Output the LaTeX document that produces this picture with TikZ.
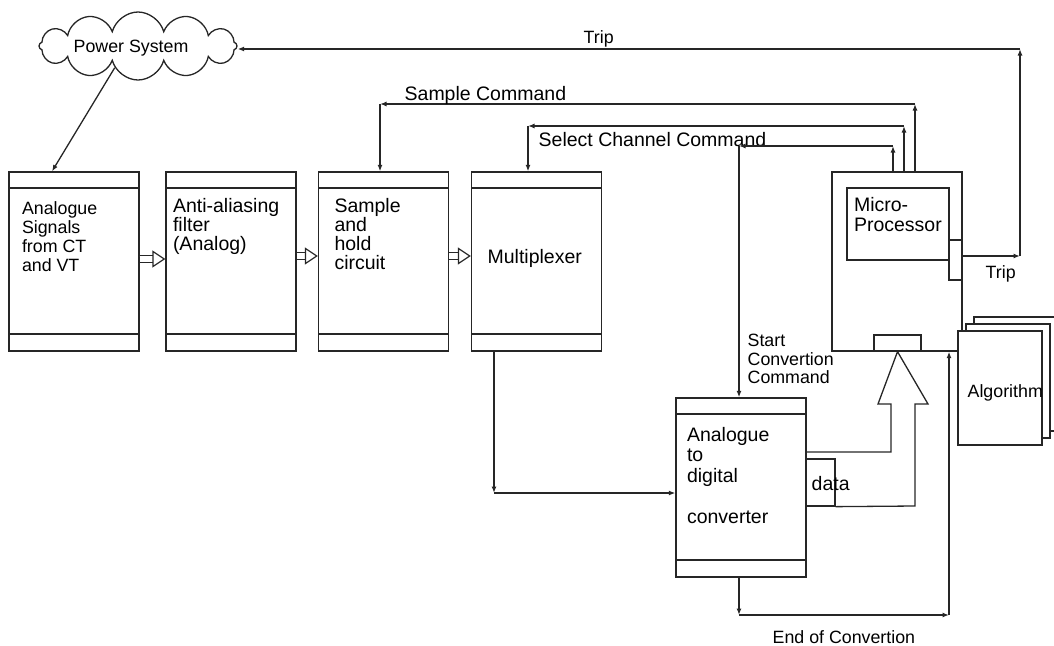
\documentclass[tikz,border=0pt]{standalone}
\usepackage{fontspec}
\setmainfont{Liberation Sans}
\usetikzlibrary{arrows.meta,shapes.symbols}

\tikzset{
  unit/.style={draw, minimum width=130pt, minimum height=179pt, inner sep=0pt,
    path picture={
      \draw ([yshift=-16pt]path picture bounding box.north west) -- ([yshift=-16pt]path picture bounding box.north east);
      \draw ([yshift=17pt]path picture bounding box.south west) -- ([yshift=17pt]path picture bounding box.south east);
    }},
  plain/.style={draw, inner sep=0pt},
  page/.style={draw, fill=white, minimum width=84pt, minimum height=114pt, inner sep=0pt},
  txtL/.style={font=\fontsize{19.5}{19}\selectfont, inner sep=0pt, align=left},
  txtS/.style={font=\fontsize{17.8}{19}\selectfont, inner sep=0pt, align=left},
  arr/.style={-{Latex[length=6.5pt,width=5pt]}},
  hollow/.style={double, double distance=5.5pt, -{Triangle[open, length=13pt, width=17pt, line width=1.2pt]}}
}

\begin{document}
\begin{tikzpicture}[x=1pt,y=-1pt,line width=1.3pt,draw=black!85]
    \useasboundingbox (0,0) rectangle (1054,645);

    % power system cloud
    \node[cloud, draw, cloud puffs=12, aspect=2.9, minimum width=198pt, minimum height=68pt, inner sep=0pt] (ps) at (138,46) {};
    \node[txtS, anchor=base west] (pst) at (73,52.7) {Power System};

    % signal chain
    \node[unit] (b1) at (74,261.5) {};
    \node[unit] (b2) at (231,261.5) {};
    \node[unit] (b3) at (383.5,261.5) {};
    \node[unit] (mux) at (536.5,261.5) {};
    \node[unit] (adc) at (741,487.5) {};

    \node[txtS, anchor=north west] (b1t) at ([xshift=13pt,yshift=-30pt]b1.north west) {Analogue\\Signals\\from CT\\and VT};
    \node[txtL, anchor=north west] (b2t) at ([xshift=7pt,yshift=-26pt]b2.north west) {Anti-aliasing\\filter\\(Analog)};
    \node[txtL, anchor=north west] (b3t) at ([xshift=16pt,yshift=-26pt]b3.north west) {Sample\\and\\hold\\circuit};
    \node[txtL, anchor=base west] (muxt) at (487,263) {Multiplexer};
    \node[txtL, anchor=north west, font=\fontsize{19.5}{20.6}\selectfont] (adct) at ([xshift=11pt,yshift=-29pt]adc.north west) {Analogue\\to\\digital\\[20.6pt]converter};

    \draw[hollow] ([yshift=2.5pt]b1.east) -- ([yshift=2.5pt]b2.west);
    \draw[hollow] ([yshift=5.5pt]b2.east) -- ([yshift=5.5pt]b3.west);
    \draw[hollow] ([yshift=5.5pt]b3.east) -- ([yshift=5.5pt]mux.west);

    % micro-processor
    \node[plain, minimum width=130pt, minimum height=179pt] (mp) at (897,261.5) {};
    \node[plain, minimum width=102pt, minimum height=72pt] (cpu) at (898,224) {};
    \node[txtL, anchor=north west, font=\fontsize{19.5}{19.5}\selectfont] (cput) at ([xshift=7pt,yshift=-9.5pt]cpu.north west) {Micro-\\Processor};
    \node[plain, minimum width=13pt, minimum height=40pt] (tp) at (955.5,260) {};
    \node[plain, minimum width=47pt, minimum height=16pt] (dp) at (897.5,343) {};

    % algorithm pages
    \node[page] (pg3) at (1016,374) {};
    \node[page] (pg2) at (1008,381) {};
    \node[page] (pg1) at (1000,388) {};
    \node[txtS, anchor=base west] (pgt) at (967,397) {Algorithm};

    % data path
    \node[plain, minimum width=29pt, minimum height=47pt] (db) at (820.5,482.5) {};
    \node[txtL, anchor=base west] (dbt) at (811,490) {data};
    \draw (adc.east |- 0,452) -- (891,452) -- (891,404) -- (878,404) -- (dp.south) -- (928,404) -- (915,404) -- (915,506) -- (db.south east);

    % power system to first box
    \draw[arr] (ps.223) -- ([xshift=-22pt]b1.north);

    % trip
    \coordinate (trR) at (1020,256);
    \coordinate (trT) at (1020,49);
    \draw[arr] ([yshift=4pt]tp.east) -- (trR);
    \draw[arr] (trR) -- (trT);
    \draw[arr] (trT) -- (trT -| ps.east);
    \node[txtS, anchor=base west] (trt1) at (583,43) {Trip};
    \node[txtS, anchor=base west] (trt2) at (985,278.3) {Trip};

    % sample command
    \coordinate (sc1) at (915,104);
    \coordinate (sc2) at (380,104);
    \draw[arr] (sc1 |- mp.north) -- (sc1);
    \draw[arr] (sc1) -- (sc2);
    \draw[arr] (sc2) -- (sc2 |- b3.north);
    \node[txtL, anchor=base west] (sct) at (404,100) {Sample Command};

    % select channel command
    \coordinate (cc1) at (904,126);
    \coordinate (cc2) at (528,126);
    \draw[arr] (cc1 |- mp.north) -- (cc1);
    \draw[arr] (cc1) -- (cc2);
    \draw[arr] (cc2) -- (cc2 |- mux.north);
    \node[txtL, anchor=base west] (cct) at (538,146) {Select Channel Command};

    % start convertion command
    \coordinate (st1) at (893,146);
    \coordinate (st2) at (739,146);
    \draw[arr] (st1 |- mp.north) -- (st1);
    \draw[arr] (st1) -- (st2);
    \draw[arr] (st2) -- (st2 |- adc.north);
    \node[txtS, anchor=north west, font=\fontsize{17.8}{18.5}\selectfont] (stt) at (747,333.7) {Start\\Convertion\\Command};

    % multiplexer to converter
    \coordinate (mx) at (494,493);
    \draw[arr] (mx |- mux.south) -- (mx);
    \draw[arr] (mx) -- (mx -| adc.west);

    % end of convertion
    \coordinate (eo1) at (739,615);
    \coordinate (eo2) at (949,615);
    \draw[arr] (eo1 |- adc.south) -- (eo1);
    \draw[arr] (eo1) -- (eo2);
    \draw[arr] (eo2) -- (eo2 |- mp.south);
    \node[txtS, anchor=base west] (eot) at (772,643) {End of Convertion};
\end{tikzpicture}
\end{document}
